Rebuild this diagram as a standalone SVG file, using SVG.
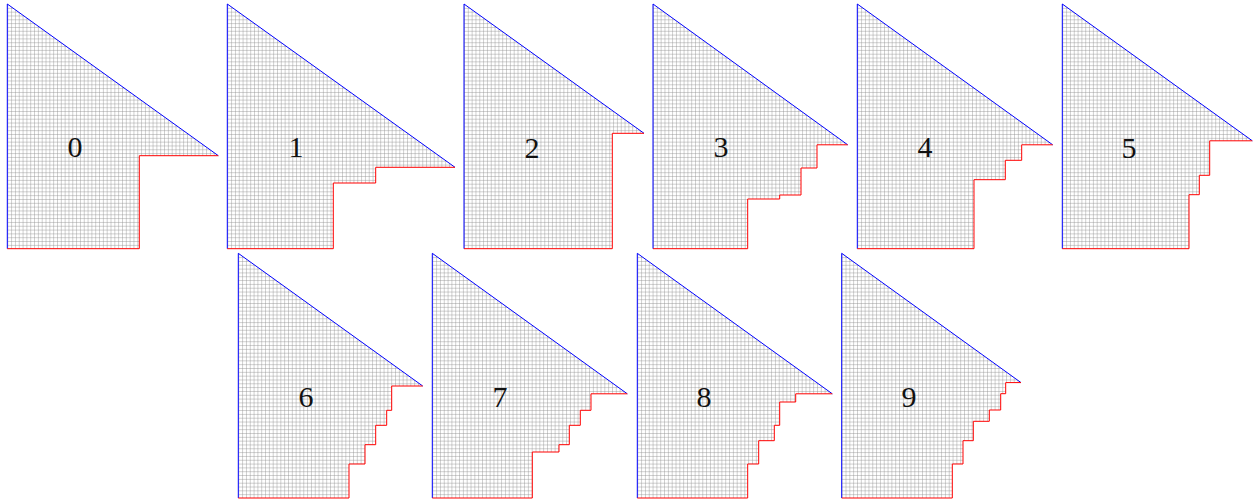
<svg xmlns="http://www.w3.org/2000/svg" width="1254" height="501" viewBox="0 0 1254 501">
<style>
.fill{fill:url(#grid);stroke:none}
.blue{fill:none;stroke:#0000ff;stroke-width:1}
.red{fill:none;stroke:#ff0000;stroke-width:1}
.lbl{font-family:"Liberation Serif","DejaVu Serif",serif;font-size:30px;fill:#111;text-anchor:middle}
</style>
<defs>
<pattern id="grid" patternUnits="userSpaceOnUse" x="0" y="0" width="3.823" height="3.823">
<rect width="3.823" height="3.823" fill="#fff"/>
<path d="M0 0H3.823M0 0V3.823" stroke="#8a8a8a" stroke-width="0.8" fill="none"/>
</pattern>
</defs>
<rect width="1254" height="501" fill="#fff"/>
<g id="shape0">
<g transform="translate(7.3,248.7)">
<polygon class="fill" points="0,0 0,-244.7 211,-93 132,-93 132,0"/>
<path class="blue" d="M0,0V-244.7L211,-93"/>
<path class="red" d="M211,-93H132V0H0"/>
</g>
<text class="lbl" x="75" y="157">0</text>
</g>
<g id="shape1">
<g transform="translate(227.3,248.7)">
<polygon class="fill" points="0,0 0,-244.7 227.7,-81.4 148.4,-81.4 148.4,-65.7 106,-65.7 106,0"/>
<path class="blue" d="M0,0V-244.7L227.7,-81.4"/>
<path class="red" d="M227.7,-81.4H148.4V-65.7H106V0H0"/>
</g>
<text class="lbl" x="296" y="157">1</text>
</g>
<g id="shape2">
<g transform="translate(464,248.7)">
<polygon class="fill" points="0,0 0,-244.7 180,-115.4 148.3,-115.4 148.3,0"/>
<path class="blue" d="M0,0V-244.7L180,-115.4"/>
<path class="red" d="M180,-115.4H148.3V0H0"/>
</g>
<text class="lbl" x="532" y="158">2</text>
</g>
<g id="shape3">
<g transform="translate(653,248.7)">
<polygon class="fill" points="0,0 0,-244.7 194.7,-103.9 164,-103.9 164,-80.7 148,-80.7 148,-53.7 126.7,-53.7 126.7,-49.7 94.7,-49.7 94.7,0"/>
<path class="blue" d="M0,0V-244.7L194.7,-103.9"/>
<path class="red" d="M194.7,-103.9H164V-80.7H148V-53.7H126.7V-49.7H94.7V0H0"/>
</g>
<text class="lbl" x="721" y="157">3</text>
</g>
<g id="shape4">
<g transform="translate(857.3,248.7)">
<polygon class="fill" points="0,0 0,-244.7 195.4,-103.9 164.4,-103.9 164.4,-88.4 148,-88.4 148,-69 116.7,-69 116.7,0"/>
<path class="blue" d="M0,0V-244.7L195.4,-103.9"/>
<path class="red" d="M195.4,-103.9H164.4V-88.4H148V-69H116.7V0H0"/>
</g>
<text class="lbl" x="925" y="157">4</text>
</g>
<g id="shape5">
<g transform="translate(1062.3,248.7)">
<polygon class="fill" points="0,0 0,-244.7 190,-107.9 147.4,-107.9 147.4,-73.4 137,-73.4 137,-54 126.7,-54 126.7,0"/>
<path class="blue" d="M0,0V-244.7L190,-107.9"/>
<path class="red" d="M190,-107.9H147.4V-73.4H137V-54H126.7V0H0"/>
</g>
<text class="lbl" x="1129" y="158">5</text>
</g>
<g id="shape6">
<g transform="translate(238.3,498)">
<polygon class="fill" points="0,0 0,-244.7 184.4,-112 153.4,-112 153.4,-87.7 148.4,-87.7 148.4,-72.7 137.4,-72.7 137.4,-53.3 126.7,-53.3 126.7,-34 110.7,-34 110.7,0"/>
<path class="blue" d="M0,0V-244.7L184.4,-112"/>
<path class="red" d="M184.4,-112H153.4V-87.7H148.4V-72.7H137.4V-53.3H126.7V-34H110.7V0H0"/>
</g>
<text class="lbl" x="306" y="407">6</text>
</g>
<g id="shape7">
<g transform="translate(432.3,498)">
<polygon class="fill" points="0,0 0,-244.7 195,-104.2 158.7,-104.2 158.7,-87.7 148,-87.7 148,-72.7 137,-72.7 137,-53.3 126.7,-53.3 126.7,-46 100,-46 100,0"/>
<path class="blue" d="M0,0V-244.7L195,-104.2"/>
<path class="red" d="M195,-104.2H158.7V-87.7H148V-72.7H137V-53.3H126.7V-46H100V0H0"/>
</g>
<text class="lbl" x="500" y="407">7</text>
</g>
<g id="shape8">
<g transform="translate(637.3,498)">
<polygon class="fill" points="0,0 0,-244.7 195,-104.2 158.4,-104.2 158.4,-96 142.4,-96 142.4,-72.7 137,-72.7 137,-57.3 121.4,-57.3 121.4,-34 110.4,-34 110.4,0"/>
<path class="blue" d="M0,0V-244.7L195,-104.2"/>
<path class="red" d="M195,-104.2H158.4V-96H142.4V-72.7H137V-57.3H121.4V-34H110.4V0H0"/>
</g>
<text class="lbl" x="704" y="407">8</text>
</g>
<g id="shape9">
<g transform="translate(841.7,498)">
<polygon class="fill" points="0,0 0,-244.7 179.3,-115.4 164,-115.4 164,-104.3 159,-104.3 159,-88 147.6,-88 147.6,-76.7 131.6,-76.7 131.6,-57.3 121.3,-57.3 121.3,-34 110.6,-34 110.6,0"/>
<path class="blue" d="M0,0V-244.7L179.3,-115.4"/>
<path class="red" d="M179.3,-115.4H164V-104.3H159V-88H147.6V-76.7H131.6V-57.3H121.3V-34H110.6V0H0"/>
</g>
<text class="lbl" x="909" y="407">9</text>
</g>
</svg>
